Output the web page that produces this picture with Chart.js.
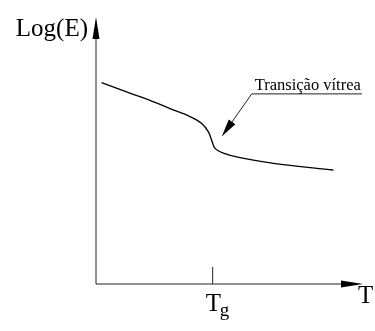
<!DOCTYPE html>
<html>
<head>
<meta charset="utf-8">
<script src="https://cdn.jsdelivr.net/npm/chart.js@4"></script>
<style>
  html, body { margin: 0; padding: 0; background: #fff; }
  #wrap { width: 375px; height: 331px; }
</style>
</head>
<body>
<div id="wrap"><canvas id="chart"></canvas></div>
<script>
// temperatura (unidades arbitrarias) e log do modulo
const temps = [2.1, 12.7, 20.2, 27.7, 35.2, 39.6, 42.1, 43.3, 44.6, 47.7, 53.9, 66.4, 88.9];
const logE = [75.4, 71.5, 68.8, 65.7, 62.7, 60.1, 57.0, 53.9, 50.8, 49.0, 47.3, 45.2, 42.7];
const tgValue = 43.7;
const axisLabels = { x: 'T', y: 'Log(E)' };
const noteText = 'Transição vítrea';

function arrowHead(ctx, tipX, tipY, fromX, fromY, len, half) {
  const a = Math.atan2(tipY - fromY, tipX - fromX);
  ctx.beginPath();
  ctx.moveTo(tipX, tipY);
  ctx.lineTo(tipX - len * Math.cos(a) + half * Math.sin(a), tipY - len * Math.sin(a) - half * Math.cos(a));
  ctx.lineTo(tipX - len * Math.cos(a) - half * Math.sin(a), tipY - len * Math.sin(a) + half * Math.cos(a));
  ctx.closePath();
  ctx.fill();
}

// eixos com setas, marca de Tg e anotacao
const decor = {
  id: 'decor',
  afterDatasetsDraw(chart) {
    const ctx = chart.ctx;
    const xs = chart.scales.x, ys = chart.scales.y;
    const x0 = xs.getPixelForValue(0), y0 = ys.getPixelForValue(0);
    const xEnd = xs.getPixelForValue(100), yEnd = ys.getPixelForValue(100);
    ctx.save();
    ctx.strokeStyle = '#222';
    ctx.fillStyle = '#000';
    ctx.lineWidth = 1;
    ctx.beginPath();
    ctx.moveTo(x0, y0); ctx.lineTo(xEnd - 10, y0);
    ctx.moveTo(x0, y0); ctx.lineTo(x0, yEnd + 10);
    ctx.stroke();
    arrowHead(ctx, xEnd, y0, x0, y0, 22, 3.5);
    arrowHead(ctx, x0, yEnd, x0, y0, 22, 3.5);

    // marca Tg
    const tgX = xs.getPixelForValue(tgValue);
    ctx.beginPath();
    ctx.moveTo(tgX, y0); ctx.lineTo(tgX, ys.getPixelForValue(6.4));
    ctx.stroke();

    ctx.font = '25px "Liberation Serif", serif';
    ctx.textBaseline = 'alphabetic';
    ctx.textAlign = 'right';
    ctx.fillText(axisLabels.y, x0 - 8, 36);
    ctx.textAlign = 'left';
    ctx.fillText(axisLabels.x, xEnd - 5, y0 + 19);
    ctx.fillText('T', tgX - 7, y0 + 27);
    ctx.font = '19px "Liberation Serif", serif';
    ctx.fillText('g', tgX + 7, y0 + 32);

    // anotacao
    const ux = xs.getPixelForValue(58.3), uy = ys.getPixelForValue(71.2);
    const ex = xs.getPixelForValue(99.6);
    const tx = xs.getPixelForValue(47.1), ty = ys.getPixelForValue(55.2);
    ctx.font = '16.5px "Liberation Serif", serif';
    ctx.fillText(noteText, ux + 3, uy - 4);
    ctx.beginPath();
    ctx.moveTo(ex, uy); ctx.lineTo(ux, uy);
    ctx.lineTo(tx + (ux - tx) * 0.3, ty + (uy - ty) * 0.3);
    ctx.stroke();
    arrowHead(ctx, tx, ty, ux, uy, 18, 4);
    ctx.restore();
  }
};

new Chart(document.getElementById('chart'), {
  type: 'scatter',
  data: {
    datasets: [{
      data: temps.map((t, i) => ({ x: t, y: logE[i] })),
      showLine: true,
      borderColor: '#000',
      borderWidth: 1.3,
      pointRadius: 0,
      tension: 0.35,
      fill: false
    }]
  },
  options: {
    responsive: true,
    maintainAspectRatio: false,
    animation: false,
    layout: { padding: { left: 96, right: 12, top: 17, bottom: 47 } },
    plugins: { legend: { display: false }, tooltip: { enabled: false } },
    scales: {
      x: { type: 'linear', min: 0, max: 100, display: false },
      y: { type: 'linear', min: 0, max: 100, display: false }
    }
  },
  plugins: [decor]
});
</script>
</body>
</html>
